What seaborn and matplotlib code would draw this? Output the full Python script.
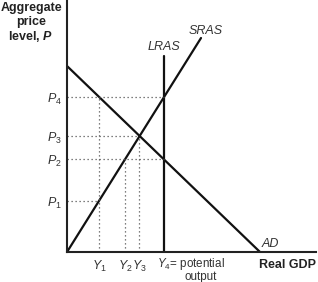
import matplotlib
matplotlib.use("Agg")
import matplotlib.pyplot as plt
import seaborn as sns
import pandas as pd

# Data (arbitrary units)
ad_x = [0, 193]
ad_y = [186, 0]
sras_x = [0, 134]
sras_y = [0, 214]
lras_x = [97, 97]
lras_y = [0, 196]

price_labels = ["$P_1$", "$P_2$", "$P_3$", "$P_4$"]
price_values = [51, 93, 116, 155]
output_labels = ["$Y_1$", "$Y_2$", "$Y_3$"]
output_values = [32, 58, 72]
y4_value = 97
title_lines = ["Aggregate", "price", "level, $\\mathbf{P}$"]

sns.set_theme(style="white")
plt.rcParams["font.family"] = ["Liberation Sans", "DejaVu Sans"]
plt.rcParams["mathtext.fontset"] = "custom"
plt.rcParams["mathtext.it"] = "Liberation Sans:italic"
plt.rcParams["mathtext.rm"] = "Liberation Sans"
plt.rcParams["mathtext.bf"] = "Liberation Sans:bold:italic"

fig = plt.figure(figsize=(3.18, 2.82), dpi=100)
ax = fig.add_axes([67 / 318, 30 / 282, 249 / 318, 251 / 282])

curves = pd.concat([
    pd.DataFrame({"x": ad_x, "y": ad_y, "curve": "AD"}),
    pd.DataFrame({"x": sras_x, "y": sras_y, "curve": "SRAS"}),
    pd.DataFrame({"x": lras_x, "y": lras_y, "curve": "LRAS"}),
])
sns.lineplot(data=curves, x="x", y="y", units="curve", estimator=None,
             sort=False, color="#111111", linewidth=1.6, ax=ax, legend=False)

# dotted guides
p1, p2, p3, p4 = price_values
y1, y2, y3 = output_values
dot = dict(color="#555555", linestyle=(0, (1, 2.2)), linewidth=0.9)
ax.plot([0, y4_value], [p4, p4], **dot)
ax.plot([0, y3], [p3, p3], **dot)
ax.plot([0, y4_value], [p2, p2], **dot)
ax.plot([0, y1], [p1, p1], **dot)
ax.plot([y1, y1], [0, p4], **dot)
ax.plot([y2, y2], [0, p2], **dot)
ax.plot([y3, y3], [0, p3], **dot)

ax.set_xlim(0, 249)
ax.set_ylim(0, 251)
for s in ["top", "right"]:
    ax.spines[s].set_visible(False)
for s in ["left", "bottom"]:
    ax.spines[s].set_color("#222222")
    ax.spines[s].set_linewidth(1.5)

fs = 9
ax.set_yticks(price_values)
ax.set_yticklabels(price_labels, fontsize=fs, color="#333333")
ax.set_xticks(output_values)
ax.set_xticklabels(output_labels, fontsize=fs, color="#333333")
ax.tick_params(axis="y", length=0, pad=4)
ax.tick_params(axis="x", length=0, pad=5)
ax.set_xlabel("")
ax.set_ylabel("")

ax.text(y4_value - 7, -4, "$Y_4$= potential", fontsize=8.4, color="#333333",
        ha="left", va="top")
ax.text(y4_value + 37, -19, "output", fontsize=8.4, color="#333333",
        ha="center", va="top")
ax.text(249, -7, "Real GDP", fontsize=fs, fontweight="bold", color="#222222",
        ha="right", va="top")
for i, line in enumerate(title_lines):
    fig.text(31 / 318, 1 - (8 + 14 * i) / 282, line, fontsize=fs,
             fontweight="bold", color="#222222", ha="center", va="center")

ax.text(97, 199, "LRAS", fontsize=fs, style="italic", color="#333333",
        ha="center", va="bottom")
ax.text(139, 215, "SRAS", fontsize=fs, style="italic", color="#333333",
        ha="center", va="bottom")
ax.text(195, 2, "AD", fontsize=fs, style="italic", color="#333333",
        ha="left", va="bottom")

fig.savefig("out.png", dpi=100)
